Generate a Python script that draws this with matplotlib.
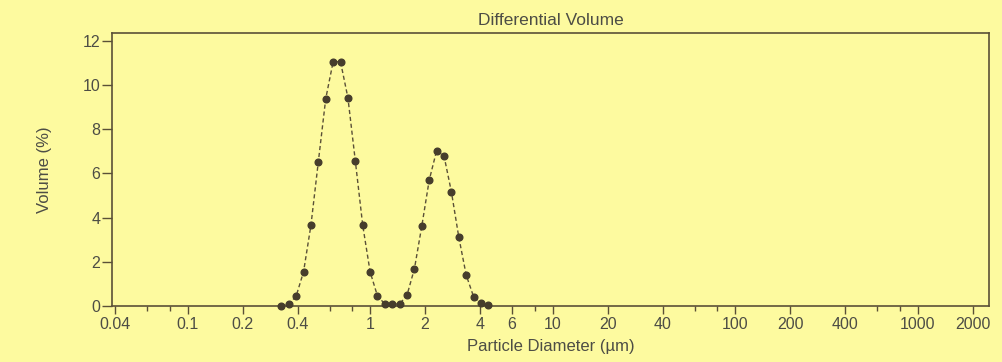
import numpy as np
import matplotlib.pyplot as plt
from matplotlib.ticker import FixedLocator, NullFormatter

# particle diameter (um), channel centres
diameter = [0.3262, 0.3581, 0.3931, 0.4315, 0.4737, 0.5200, 0.5709, 0.6267,
            0.6879, 0.7552, 0.8290, 0.9101, 0.9991, 1.0968, 1.2040, 1.3217,
            1.4509, 1.5928, 1.7485, 1.9195, 2.1072, 2.3132, 2.5394, 2.7877,
            3.0603, 3.3595, 3.6880, 4.0486, 4.4445]
# differential volume (%)
volume = [0.02, 0.08, 0.45, 1.55, 3.66, 6.53, 9.38, 11.05,
          11.05, 9.42, 6.57, 3.66, 1.55, 0.45, 0.09, 0.09,
          0.09, 0.50, 1.69, 3.63, 5.70, 7.03, 6.79, 5.16,
          3.11, 1.40, 0.42, 0.12, 0.06]

x_major = [0.04, 0.1, 0.2, 0.4, 1, 2, 4, 6, 10, 20, 40, 100, 200, 400, 1000, 2000]
x_labels = ['0.04', '0.1', '0.2', '0.4', '1', '2', '4', '6', '10', '20', '40',
            '100', '200', '400', '1000', '2000']
x_minor = [0.06, 0.08, 0.6, 0.8, 8, 60, 80, 600, 800]
y_ticks = [0, 2, 4, 6, 8, 10, 12]

bg = '#fdfa9f'
ink = '#5a5037'
txt = '#4d4d45'

plt.rcParams['font.family'] = ['Liberation Sans', 'DejaVu Sans']

fig = plt.figure(figsize=(10.03, 3.62), dpi=100, facecolor=bg)
ax = fig.add_axes([0.1117, 0.1547, 0.8743, 0.7541], facecolor=bg)

ax.plot(diameter, volume, linestyle=(0, (3, 2)), color=ink, linewidth=1.0,
        marker='o', markersize=4.8, markerfacecolor='#463d2c',
        markeredgecolor='#463d2c', clip_on=False, zorder=3)

ax.set_xscale('log')
ax.set_xlim(0.0385, 2460)
ax.set_ylim(0, 12.35)

ax.xaxis.set_major_locator(FixedLocator(x_major))
ax.set_xticklabels(x_labels)
ax.xaxis.set_minor_locator(FixedLocator(x_minor))
ax.xaxis.set_minor_formatter(NullFormatter())
ax.set_yticks(y_ticks)

for s in ax.spines.values():
    s.set_color(ink)
    s.set_linewidth(1.2)

ax.tick_params(axis='x', which='major', direction='out', length=6,
               width=1.0, color=ink, labelcolor=txt, labelsize=11.5, pad=2)
ax.tick_params(axis='y', which='major', direction='out', length=7,
               width=1.0, color=ink, labelcolor=txt, labelsize=11.5, pad=1.5)
ax.tick_params(axis='x', which='minor', direction='out', length=3.5,
               width=1.0, color=ink)

ax.set_title('Differential Volume', fontsize=12.5, color=txt, pad=6)
ax.set_xlabel('Particle Diameter (\u00b5m)', fontsize=12, color=txt, labelpad=5)
ax.set_ylabel('Volume (%)', fontsize=12, color=txt)
ax.yaxis.set_label_coords(-0.068, 0.5)

fig.savefig('out.png', dpi=100, facecolor=bg)
